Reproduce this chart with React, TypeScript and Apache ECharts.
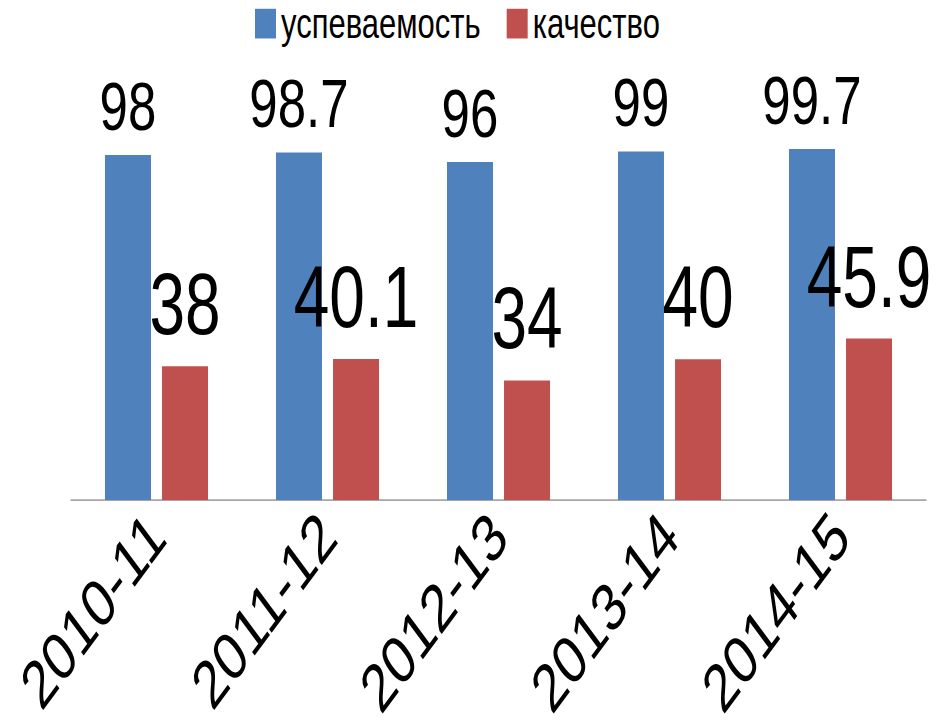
import React, { useEffect, useRef } from "react";
import * as echarts from "echarts";

const categories = ["2010-11", "2011-12", "2012-13", "2013-14", "2014-15"];
const uspevaemost = [98, 98.7, 96, 99, 99.7];
const kachestvo = [38, 40.1, 34, 40, 45.9];
const seriesNames = ["успеваемость", "качество"];

const FONT = "'Liberation Sans', Arial, sans-serif";
const STRETCH = 1.35;
const W = 937;
const H = 726 / STRETCH;

export default function App() {
  const ref = useRef<HTMLDivElement>(null);
  useEffect(() => {
    if (!ref.current) return;
    const chart = echarts.init(ref.current, null, { renderer: "svg" });
    chart.setOption({
      animation: false,
      legend: {
        data: seriesNames,
        top: 0,
        left: 250,
        padding: [2, 5, 2, 5],
        icon: "rect",
        itemWidth: 21,
        itemHeight: 22,
        itemGap: 26,
        textStyle: { fontSize: 31, fontFamily: FONT, color: "#000" },
      },
      grid: { left: 71, right: 11, top: 148 / STRETCH, bottom: H - 507 / STRETCH, containLabel: false },
      xAxis: {
        type: "category",
        data: categories,
        axisTick: { show: false },
        axisLine: { lineStyle: { color: "#A6A6A6", width: 1.2 } },
        axisLabel: {
          rotate: 45,
          fontSize: 50,
          fontFamily: FONT,
          color: "#000",
          margin: 18,
          interval: 0,
        },
      },
      yAxis: { type: "value", min: 0, max: 100, show: false },
      series: [
        {
          name: seriesNames[0],
          type: "bar",
          data: uspevaemost,
          barWidth: 46,
          barGap: "24%",
          itemStyle: { color: "#4F81BD" },
          label: {
            show: true,
            position: "top",
            distance: 11,
            fontSize: 51,
            fontFamily: FONT,
            color: "#000",
          },
        },
        {
          name: seriesNames[1],
          type: "bar",
          data: kachestvo,
          barWidth: 46,
          itemStyle: { color: "#C0504D" },
          label: {
            show: true,
            position: "top",
            distance: 14,
            fontSize: 64,
            fontFamily: FONT,
            color: "#000",
          },
        },
      ],
    });
    return () => chart.dispose();
  }, []);
  return (
    <div
      ref={ref}
      style={{
        width: W,
        height: H,
        position: "absolute",
        left: 0,
        top: 0,
        transform: `scaleY(${STRETCH})`,
        transformOrigin: "0 0",
      }}
    />
  );
}
